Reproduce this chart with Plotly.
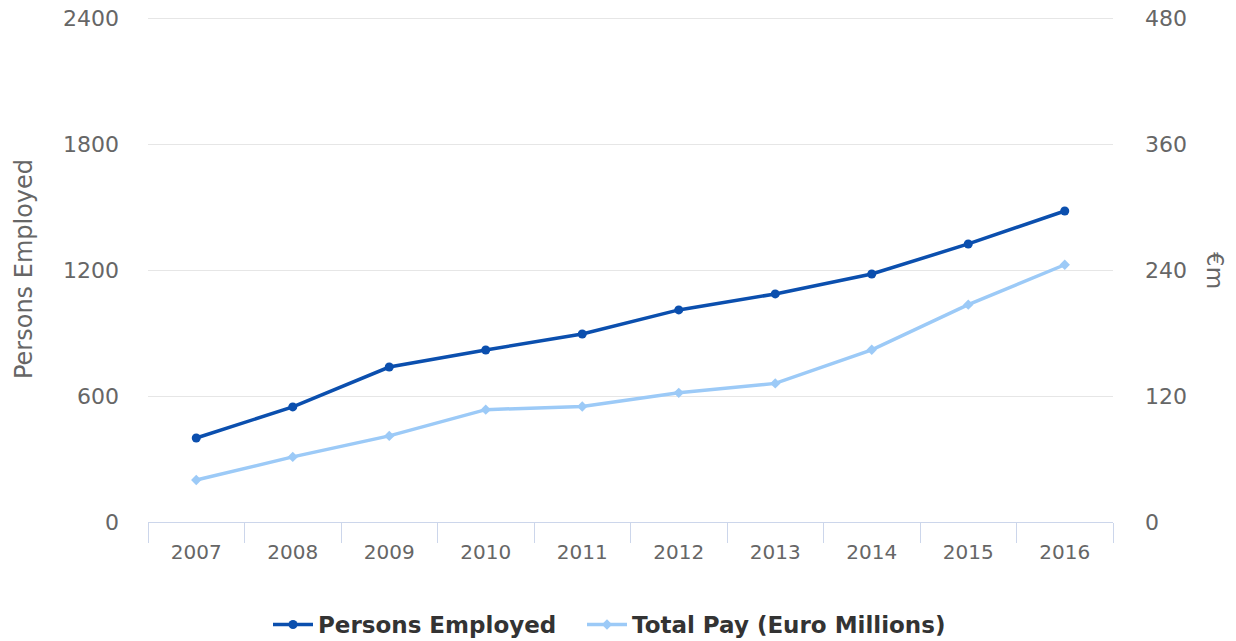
import plotly.graph_objects as go

years = ["2007", "2008", "2009", "2010", "2011", "2012", "2013", "2014", "2015", "2016"]
persons_employed = [400, 548, 738, 819, 895, 1010, 1086, 1181, 1324, 1481]
total_pay = [40, 62, 82, 107, 110, 123, 132, 164, 207, 245]
left_ticks = [0, 600, 1200, 1800, 2400]
right_ticks = [0, 120, 240, 360, 480]

FONT = "DejaVu Sans"
W, H = 1236, 641
ML, MR, MT, MB = 148, 123, 16, 119
PW = W - ML - MR
PH = H - MT - MB
PAD = PH / (PH - 2)  # leaves room so the top gridline sits inside the plot

fig = go.Figure()
fig.add_trace(go.Scatter(
    x=years, y=persons_employed, name="Persons Employed",
    mode="lines+markers",
    line=dict(color="#0b4fae", width=3.5),
    marker=dict(symbol="circle", size=9, color="#0b4fae"),
    yaxis="y", legend="legend",
))
fig.add_trace(go.Scatter(
    x=years, y=total_pay, name="Total Pay (Euro Millions)",
    mode="lines+markers",
    line=dict(color="#9ccaf7", width=3.5),
    marker=dict(symbol="diamond", size=8, color="#9ccaf7"),
    yaxis="y2", legend="legend2",
))

fig.add_annotation(
    text="€m", textangle=90, showarrow=False,
    xref="paper", yref="paper", x=(1215 - ML) / PW, y=(641 - 270 - MB) / PH,
    xanchor="center", yanchor="middle",
    font=dict(size=23, color="#666666", family=FONT),
)

legend_font = dict(size=23, color="#333333", family=FONT, weight="bold")
fig.update_layout(
    width=W, height=H,
    margin=dict(l=ML, r=MR, t=MT, b=MB, autoexpand=False),
    paper_bgcolor="white", plot_bgcolor="white",
    font=dict(family=FONT, color="#666666", size=20),
    xaxis=dict(
        type="category", tickson="boundaries",
        showline=True, linecolor="#ccd6eb", linewidth=1,
        ticks="outside", ticklen=20, tickcolor="#ccd6eb", tickwidth=1,
        showgrid=False, zeroline=False, automargin=False,
        ticklabelstandoff=12,
        tickfont=dict(size=20, color="#666666"),
        range=[-0.5, 9.5],
    ),
    yaxis=dict(
        range=[0, left_ticks[-1] * PAD], tickvals=left_ticks,
        showgrid=True, gridcolor="#e6e6e6", gridwidth=1,
        zeroline=False, showline=False, automargin=False,
        ticklabelstandoff=28, ticklabeloverflow="allow",
        tickfont=dict(size=22, color="#666666"),
        title=dict(text="Persons Employed", font=dict(size=24, color="#666666"), standoff=23),
    ),
    yaxis2=dict(
        range=[0, right_ticks[-1] * PAD], tickvals=right_ticks,
        overlaying="y", side="right", automargin=False,
        showgrid=False, zeroline=False, showline=False,
        ticklabelstandoff=31, ticklabeloverflow="allow",
        tickfont=dict(size=22, color="#666666"),
    ),
    legend=dict(
        orientation="h", xanchor="left", x=(268 - ML) / PW,
        y=-81 / PH, yanchor="top", font=legend_font, itemwidth=40,
    ),
    legend2=dict(
        orientation="h", xanchor="left", x=(582 - ML) / PW,
        y=-81 / PH, yanchor="top", font=legend_font, itemwidth=40,
    ),
    showlegend=True,
)

fig.write_html("out.html", config={"displayModeBar": False},
               post_script="document.body.style.margin='0';")
